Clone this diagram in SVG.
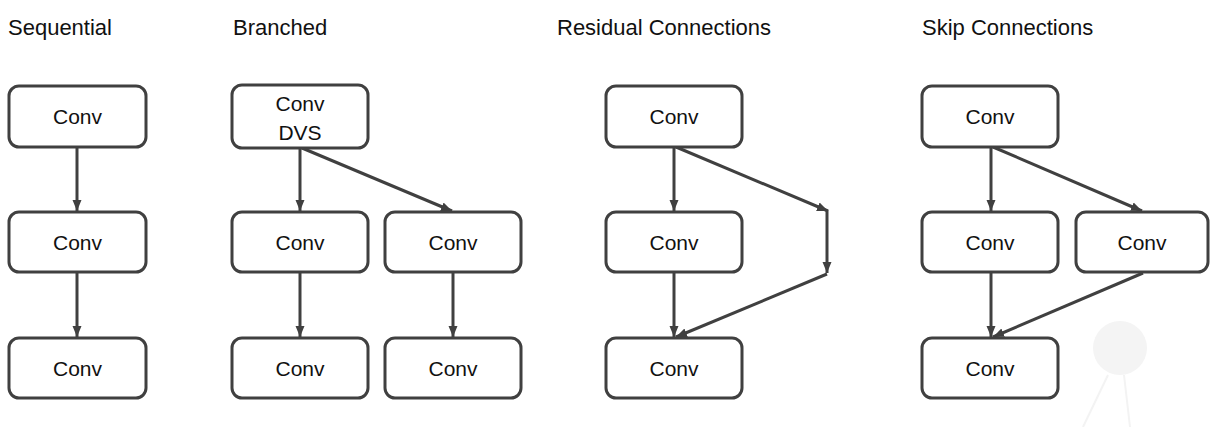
<svg xmlns="http://www.w3.org/2000/svg" width="1210" height="427" viewBox="0 0 1210 427">
  <style>
    .title { font-family: "Liberation Sans", Arial, sans-serif; font-size: 22px; fill: #111; }
    .box { fill: #fff; stroke: #404040; stroke-width: 3; }
    .lbl { font-family: "Liberation Sans", Arial, sans-serif; font-size: 21px; fill: #111; text-anchor: middle; }
    .edge { stroke: #404040; stroke-width: 3; fill: none; }
    .faint { fill: #f4f4f4; stroke: none; }
    .faintline { stroke: #f3f3f3; stroke-width: 2; fill: none; }
  </style>
  <defs>
    <marker id="arrow" markerUnits="userSpaceOnUse" markerWidth="12" markerHeight="12" viewBox="0 0 12 12" refX="11" refY="6" orient="auto">
      <path d="M0,1.5 L11,6 L0,10.5 Z" fill="#404040"/>
    </marker>
  </defs>

  <rect width="1210" height="427" fill="#fff"/>

  <!-- faint background mark, lower right -->
  <g id="mark">
    <circle class="faint" cx="1120" cy="348" r="27"/>
    <path class="faintline" d="M1108,375 L1083,427 M1124,375 L1130,427"/>
  </g>

  <!-- column titles -->
  <text class="title" x="8" y="35">Sequential</text>
  <text class="title" x="233" y="35">Branched</text>
  <text class="title" x="557" y="35">Residual Connections</text>
  <text class="title" x="922" y="35">Skip Connections</text>

  <!-- connectors -->
  <g id="connectors">
    <!-- sequential -->
    <line class="edge" x1="77" y1="147" x2="77" y2="211" marker-end="url(#arrow)"/>
    <line class="edge" x1="77" y1="272" x2="77" y2="337" marker-end="url(#arrow)"/>
    <!-- branched -->
    <line class="edge" x1="300" y1="148" x2="300" y2="211" marker-end="url(#arrow)"/>
    <line class="edge" x1="302" y1="148" x2="452" y2="211" marker-end="url(#arrow)"/>
    <line class="edge" x1="300" y1="272" x2="300" y2="337" marker-end="url(#arrow)"/>
    <line class="edge" x1="453" y1="272" x2="453" y2="337" marker-end="url(#arrow)"/>
    <!-- residual -->
    <line class="edge" x1="674" y1="147" x2="674" y2="211" marker-end="url(#arrow)"/>
    <line class="edge" x1="676" y1="147" x2="828" y2="211" marker-end="url(#arrow)"/>
    <line class="edge" x1="827" y1="210" x2="827" y2="273" marker-end="url(#arrow)"/>
    <line class="edge" x1="827" y1="274" x2="676" y2="337" marker-end="url(#arrow)"/>
    <line class="edge" x1="674" y1="272" x2="674" y2="337" marker-end="url(#arrow)"/>
    <!-- skip -->
    <line class="edge" x1="991" y1="147" x2="991" y2="211" marker-end="url(#arrow)"/>
    <line class="edge" x1="993" y1="147" x2="1142" y2="211" marker-end="url(#arrow)"/>
    <line class="edge" x1="991" y1="272" x2="991" y2="337" marker-end="url(#arrow)"/>
    <line class="edge" x1="1143" y1="273" x2="993" y2="337" marker-end="url(#arrow)"/>
  </g>

  <!-- sequential nodes -->
  <g id="seq1"><rect class="box" x="9" y="86" width="137" height="61" rx="10"/><text class="lbl" x="77.5" y="124">Conv</text></g>
  <g id="seq2"><rect class="box" x="9" y="212" width="137" height="60" rx="10"/><text class="lbl" x="77.5" y="250">Conv</text></g>
  <g id="seq3"><rect class="box" x="9" y="338" width="137" height="60" rx="10"/><text class="lbl" x="77.5" y="376">Conv</text></g>

  <!-- branched nodes -->
  <g id="br1"><rect class="box" x="232" y="85" width="136" height="63" rx="10"/><text class="lbl" x="300" y="111">Conv</text><text class="lbl" x="300" y="140">DVS</text></g>
  <g id="br2"><rect class="box" x="232" y="212" width="136" height="60" rx="10"/><text class="lbl" x="300" y="250">Conv</text></g>
  <g id="br3"><rect class="box" x="385" y="212" width="136" height="60" rx="10"/><text class="lbl" x="453" y="250">Conv</text></g>
  <g id="br4"><rect class="box" x="232" y="338" width="136" height="60" rx="10"/><text class="lbl" x="300" y="376">Conv</text></g>
  <g id="br5"><rect class="box" x="385" y="338" width="136" height="60" rx="10"/><text class="lbl" x="453" y="376">Conv</text></g>

  <!-- residual nodes -->
  <g id="res1"><rect class="box" x="606" y="86" width="136" height="61" rx="10"/><text class="lbl" x="674" y="124">Conv</text></g>
  <g id="res2"><rect class="box" x="606" y="212" width="136" height="60" rx="10"/><text class="lbl" x="674" y="250">Conv</text></g>
  <g id="res3"><rect class="box" x="606" y="338" width="136" height="60" rx="10"/><text class="lbl" x="674" y="376">Conv</text></g>

  <!-- skip nodes -->
  <g id="skip1"><rect class="box" x="922" y="86" width="136" height="61" rx="10"/><text class="lbl" x="990" y="124">Conv</text></g>
  <g id="skip2"><rect class="box" x="922" y="212" width="136" height="60" rx="10"/><text class="lbl" x="990" y="250">Conv</text></g>
  <g id="skip3"><rect class="box" x="1076" y="212" width="132" height="60" rx="10"/><text class="lbl" x="1142" y="250">Conv</text></g>
  <g id="skip4"><rect class="box" x="922" y="338" width="136" height="60" rx="10"/><text class="lbl" x="990" y="376">Conv</text></g>
</svg>
